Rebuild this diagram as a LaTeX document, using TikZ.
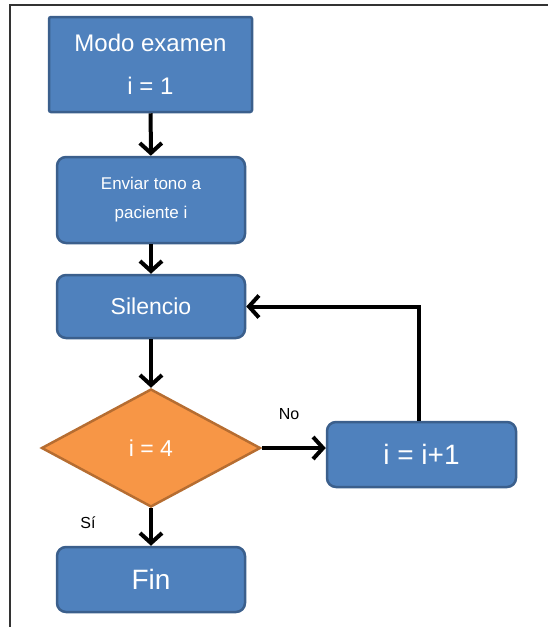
\documentclass[tikz,border=0pt]{standalone}
\usepackage{fontspec}
\setmainfont{Liberation Sans}
\usetikzlibrary{calc, arrows.meta, shapes.geometric}

\definecolor{cajaazul}{HTML}{4F81BD}
\definecolor{bordeazul}{HTML}{3B5F8C}
\definecolor{rombonaranja}{HTML}{F79646}
\definecolor{bordenaranja}{HTML}{B66D31}

\begin{document}
\begin{tikzpicture}[x=1pt, y=-1pt, thick,
    caja/.style={draw=bordeazul, fill=cajaazul, line width=2.5pt, rounded corners=9pt,
      text=white, inner sep=0pt, minimum width=188pt, align=center},
    rombo/.style={diamond, draw=bordenaranja, fill=rombonaranja, line width=2.5pt,
      text=white, inner sep=0pt, minimum width=219pt, minimum height=118pt},
    flecha/.style={line width=4pt, -{Straight Barb[length=10pt, width=22pt]}},
    etiqueta/.style={inner sep=0pt, anchor=base}]
  \useasboundingbox (0,0) rectangle (548,627);
  % marco
  \draw[line width=2pt, black!80] (10,627) -- (10,5) -- (548,5);
  \node[caja, rounded corners=2pt, minimum width=203pt, minimum height=95pt,
    font=\fontsize{24}{43}\selectfont] (modo) at (150.5,64.5) {Modo examen\\i = 1};
  \node[caja, minimum height=86pt, font=\fontsize{17}{29}\selectfont] (enviar) at (151,200) {Enviar tono a\\paciente i};
  \node[caja, minimum height=63pt, font=\fontsize{23}{25}\selectfont] (silencio) at (151,306.5) {Silencio};
  \node[rombo, font=\fontsize{23}{25}\selectfont] (cond) at (151,448) {i = 4};
  \node[caja, minimum width=189pt, minimum height=65pt, font=\fontsize{28}{30}\selectfont] (incr) at (421.5,454.5) {i = i+1};
  \node[caja, minimum height=65pt, font=\fontsize{28}{30}\selectfont] (fin) at (151,579.5) {Fin};
  \node[etiqueta, font=\fontsize{16}{18}\selectfont] (no) at (289,419) {No};
  \node[etiqueta, font=\fontsize{16}{18}\selectfont] (si) at (88,528) {Sí};
  \draw[flecha] (modo) -- (enviar);
  \draw[flecha] (enviar) -- (silencio);
  \draw[flecha] (silencio) -- (cond);
  \draw[flecha] (cond.east) -- (cond.east -| incr.west);
  % vuelta a Silencio
  \draw[flecha] ($(incr.north)+(-3,0)$) |- (silencio.east);
  \draw[flecha] (cond) -- (fin);
\end{tikzpicture}
\end{document}
